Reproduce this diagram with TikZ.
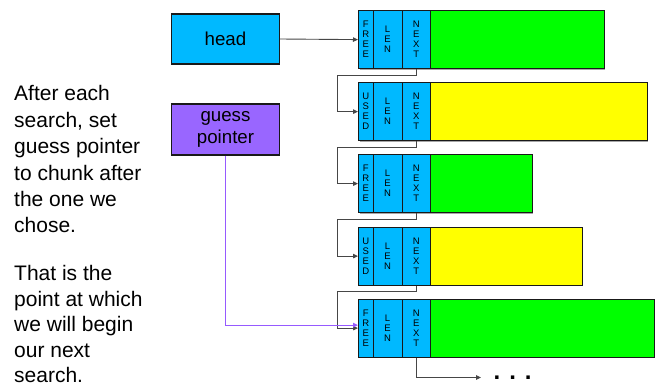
\documentclass[tikz,border=0pt]{standalone}
\usepackage{fontspec}
\setmainfont{Liberation Sans}
\usetikzlibrary{arrows.meta}
\definecolor{cellblue}{RGB}{0,185,255}
\definecolor{grn}{RGB}{0,255,0}
\definecolor{yel}{RGB}{255,255,0}
\definecolor{purp}{RGB}{153,102,255}
\definecolor{purpline}{RGB}{150,90,255}
\definecolor{conn}{RGB}{70,70,70}
\definecolor{edge}{RGB}{25,25,25}
\tikzset{
  cellbox/.style={draw=edge, line width=1.2pt, fill=cellblue, anchor=north west,
    minimum height=58pt, inner sep=0pt, align=center,
    font=\fontsize{9.5}{10}\selectfont},
  databox/.style={draw=edge, line width=1.2pt, anchor=north west,
    minimum height=58pt, inner sep=0pt},
  bigbox/.style={draw=edge, line width=1.2pt, inner sep=0pt, align=center,
    minimum width=107.6pt, font=\fontsize{18.7}{21.5}\selectfont},
  link/.style={draw=conn, line width=0.9pt, -{Triangle[length=5pt,width=4.5pt]}},
  plink/.style={draw=purpline, line width=1.2pt, -{Triangle[length=5pt,width=4.5pt]}},
  note/.style={anchor=north west, inner sep=0pt, align=left}
}
\begin{document}
\begin{tikzpicture}[x=1pt,y=-1pt]
\useasboundingbox[fill=white] (0,0) rectangle (655,388);

% chunks
\foreach \i/\t/\lab/\col/\w in {1/10/F\\R\\E\\E/grn/174, 2/82/U\\S\\E\\D/yel/217,
    3/154/F\\R\\E\\E/grn/101.5, 4/226.5/U\\S\\E\\D/yel/151.5, 5/298.5/F\\R\\E\\E/grn/224}{
  \fill[gray!70] (359.5,\t+1.5) rectangle (430+\w+1,\t+59.5);
  \node[databox, fill=\col, minimum width=\w pt] (d\i) at (430,\t) {};
  \node[cellbox, minimum width=14.5pt] (f\i) at (358,\t) {\lab};
  \node[cellbox, minimum width=29pt] (l\i) at (372.5,\t) {L\\E\\N};
  \node[cellbox, minimum width=28.5pt] (n\i) at (401.5,\t) {N\\E\\X\\T};
}

% head and guess pointer
\node[bigbox, fill=cellblue, minimum height=50pt] (head) at (225.5,39) {head};
\node[bigbox, fill=purp, minimum height=51pt] (guess) at (225.5,129.5) {guess\\pointer};

% turn points
\coordinate (k1) at (337,75);
\coordinate (k2) at (337,147);
\coordinate (k3) at (337,219);
\coordinate (k4) at (337,291);
\coordinate (e5) at (481,377.5);

\draw[link] (head.east) -- (f1.west);
\draw[link] (n1.south) |- (k1) |- (f2.west);
\draw[link] (n2.south) |- (k2) |- (f3.west);
\draw[link] (n3.south) |- (k3) |- (f4.west);
\draw[link] (n4.south) |- (k4) |- (f5.west);
\draw[link] (n5.south) |- (e5);
\draw[plink] (guess.south) |- ([yshift=3pt]f5.west);

\node[anchor=base west, inner sep=0pt, font=\fontsize{24}{24}\selectfont\bfseries] (dots) at (493.5,379.5) {. . .};

% notes
\node[note, font=\fontsize{21}{26.4}\selectfont] (t1) at (14,85.4) {After each\\search, set\\guess pointer\\to chunk after\\the one we\\chose.};
\node[note, font=\fontsize{21}{25.4}\selectfont] (t2) at (14,265.4) {That is the\\point at which\\we will begin\\our next\\search.};
\end{tikzpicture}
\end{document}
